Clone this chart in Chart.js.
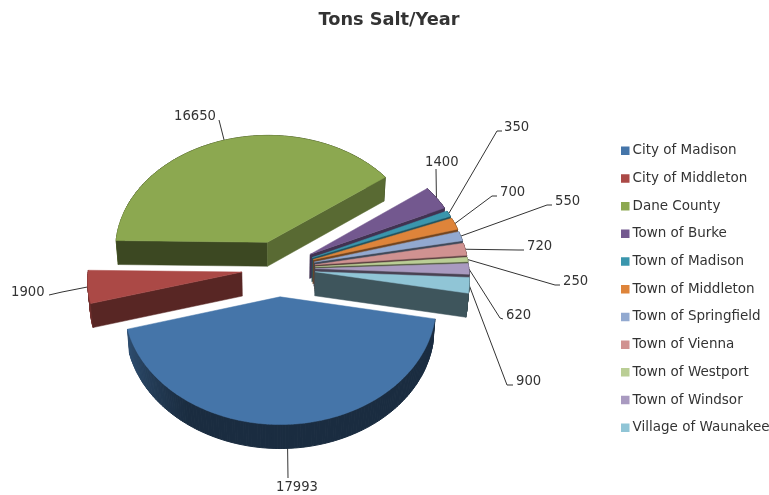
<!DOCTYPE html>
<html><head><meta charset="utf-8">
<style>html,body{margin:0;padding:0;background:#fff}#w{width:769px;height:495px;position:relative}</style>
<script src="https://cdn.jsdelivr.net/npm/chart.js@4/dist/chart.umd.js"></script>
</head><body><div id="w"><canvas id="c" width="769" height="495"></canvas></div>
<script>
const categories = ['City of Madison','City of Middleton','Dane County','Town of Burke','Town of Madison','Town of Middleton','Town of Springfield','Town of Vienna','Town of Westport','Town of Windsor','Village of Waunakee'];
const tons = [17993,1900,16650,1400,350,700,550,720,250,620,900];
const colors = ['#4575A9','#AB4946','#8CA850','#73588F','#3A96AD','#DE843A','#92A9D0','#D09291','#BACE95','#A99AC0','#90C5D6'];
const chartTitle = 'Tons Salt/Year';
// Leader-line layout: [elbowX, elbowY, endX, endY, textX, textY]
const labelLayout = [
 [288,478,288,478,276,486],
 [62,292,49,295,11,291],
 [219,120,219,120,174,115],
 [436,169,436,169,425,161],
 [497,131,502,131,504,126],
 [492,196,497,196,500,191],
 [547,205,552,205,555,200],
 [518,250,524,250,527,245],
 [555,285,560,285,563,280],
 [500,318,503,319,506,314],
 [507,385,513,385,516,380]
];
const VIEW = {cx:278.5, cy:268.5, f:153.5, g:116.4, p:0.0606, explode:0.24, depth:24, shrink:0.987};
const FONT = '"DejaVu Sans", sans-serif';
const LEG_FONT = 13.5;
const LEG_PAD = 27.7 - LEG_FONT;

function project(u, v, bottom){
  const w = 1 - VIEW.p * v;
  let x = VIEW.f * u / w, y = VIEW.g * v / w;
  if (bottom){ x *= VIEW.shrink; y += VIEW.depth; }
  return [VIEW.cx + x, VIEW.cy + y];
}
function shade(hex, k){
  const n = parseInt(hex.slice(1),16);
  return 'rgb(' + [(n>>16)&255,(n>>8)&255,n&255].map(c=>Math.round(c*k)).join(',') + ')';
}
function sliceGeom(el){
  const mid = (el.startAngle + el.endAngle)/2;
  return {ou: VIEW.explode*Math.cos(mid), ov: VIEW.explode*Math.sin(mid), mid};
}
function rimPoint(el, a, bottom){
  const g = sliceGeom(el);
  return project(g.ou + Math.cos(a), g.ov + Math.sin(a), bottom);
}
function poly(ctx, pts, fill, lw){
  ctx.beginPath();
  pts.forEach((p,i)=> i ? ctx.lineTo(p[0],p[1]) : ctx.moveTo(p[0],p[1]));
  ctx.closePath();
  ctx.fillStyle = fill; ctx.strokeStyle = fill; ctx.lineWidth = lw; ctx.lineJoin = 'round';
  ctx.fill(); ctx.stroke();
}
function rimFactor(deg){
  deg = ((deg % 360) + 360) % 360;
  if (deg > 200) return 0.46;
  if (deg < 125) return 0.38;
  return 0.38 + 0.28 * Math.min(1,(deg-125)/40);
}
function cutFactor(normalDeg){
  const d = Math.abs(normalDeg - 90);
  return d < 12 ? 0.43 : Math.min(0.8, 0.52 + 0.0055 * (d - 16));
}
class Arc3D extends Chart.ArcElement {
  draw(ctx){
    const base = this.options.backgroundColor;
    const g = sliceGeom(this);
    const a0 = this.startAngle, a1 = this.endAngle;
    const n = Math.max(2, Math.ceil((a1-a0)*180/Math.PI));
    ctx.save();
    for (let i=0;i<n;i++){
      const s = a0+(a1-a0)*i/n, e = a0+(a1-a0)*(i+1)/n;
      poly(ctx,[rimPoint(this,s,false),rimPoint(this,e,false),rimPoint(this,e,true),rimPoint(this,s,true)], shade(base, rimFactor((s+e)/2*180/Math.PI)), 1);
    }
    const apT = project(g.ou,g.ov,false), apB = project(g.ou,g.ov,true);
    [[a0,-Math.PI/2],[a1,Math.PI/2]].forEach(([a,dn])=>{
      const nrm = a + dn;
      if (Math.sin(nrm) > 0){
        let deg = ((nrm*180/Math.PI)%360+360)%360;
        poly(ctx,[apT,rimPoint(this,a,false),rimPoint(this,a,true),apB], shade(base,cutFactor(deg)), 0.5);
      }
    });
    const top = [apT];
    for (let i=0;i<=n;i++) top.push(rimPoint(this,a0+(a1-a0)*i/n,false));
    poly(ctx,top,base,0.5);
    ctx.restore();
  }
}
Arc3D.id = 'arc3d';
class Pie3D extends Chart.PieController {
  draw(){
    const ctx = this.chart.ctx;
    const els = this.getMeta().data.slice();
    els.sort((a,b)=> Math.sin((a.startAngle+a.endAngle)/2) - Math.sin((b.startAngle+b.endAngle)/2));
    els.forEach(e=> e.draw(ctx));
  }
}
Pie3D.id = 'pie3d';
Pie3D.defaults = {dataElementType:'arc3d'};
Chart.register(Arc3D, Pie3D);

const leaders = {
  id:'leaders',
  beforeDatasetsDraw(chart){
    const ctx = chart.ctx, els = chart.getDatasetMeta(0).data;
    ctx.save();
    ctx.strokeStyle = '#333'; ctx.lineWidth = 1;
    els.forEach((el,i)=>{
      const p = rimPoint(el, sliceGeom(el).mid, false), l = labelLayout[i];
      ctx.beginPath(); ctx.moveTo(p[0],p[1]); ctx.lineTo(l[0],l[1]); ctx.lineTo(l[2],l[3]); ctx.stroke();
    });
    ctx.restore();
  },
  afterDatasetsDraw(chart){
    const ctx = chart.ctx;
    ctx.save();
    ctx.fillStyle = '#333'; ctx.font = '13.2px ' + FONT;
    ctx.textAlign = 'left'; ctx.textBaseline = 'middle';
    tons.forEach((v,i)=> ctx.fillText(String(v), labelLayout[i][4], labelLayout[i][5] + 1.5));
    ctx.restore();
  },
  beforeDraw(chart){
    const lg = chart.legend;
    lg.left = 624.75 - LEG_PAD; lg.right = 769; lg.top = 144 - LEG_PAD; lg.bottom = 495;
  }
};
const baseLabels = Chart.DoughnutController.overrides.plugins.legend.labels.generateLabels;
new Chart(document.getElementById('c'), {
  type:'pie3d',
  data:{labels:categories, datasets:[{data:tons, backgroundColor:colors, borderWidth:0, clip:false}]},
  plugins:[leaders],
  options:{
    responsive:false, animation:false, rotation:100.5,
    layout:{padding:{left:9}},
    plugins:{
      title:{display:true, text:chartTitle, color:'#333', font:{family:FONT, size:17.75, weight:'bold'}, padding:{top:10,bottom:19}},
      tooltip:{enabled:false},
      legend:{position:'right', align:'start',
        labels:{font:{family:FONT,size:LEG_FONT}, color:'#333', boxWidth:1, boxHeight:1, padding:LEG_PAD,
          generateLabels(chart){
            return baseLabels(chart).map(it=>Object.assign(it,{strokeStyle:it.fillStyle,lineWidth:7.5}));
          }}}
    }
  }
});
</script></body></html>
